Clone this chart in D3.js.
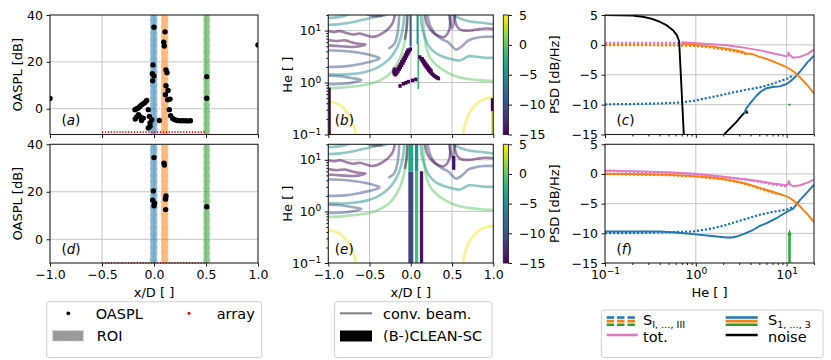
<!DOCTYPE html>
<html>
<head>
<meta charset="utf-8">
<script src="https://cdn.jsdelivr.net/npm/d3@7/dist/d3.min.js"></script>
<style>
html,body{margin:0;padding:0;background:#fff;}
svg{display:block;}
</style>
</head>
<body>
<svg id="chart" width="831" height="360"></svg>
<script>
// ===================== DATA =====================
const xPosTicks = [-1, -0.5, 0, 0.5, 1];
const oasplTicks = [0, 20, 40];
const heMajorTicks = [0.1, 1, 10];
const heMinorTicks = [0.2,0.3,0.4,0.5,0.6,0.7,0.8,0.9,2,3,4,5,6,7,8,9,20];
const psdTicks = [-15, -10, -5, 0, 5];
const cbarTicks = [-15, -10, -5, 0, 5];
const panelLetters = [['a','b','c'],['d','e','f']];

// OASPL scatter (x/D, dB)
const oasplA = [
 [-1.0,4.4],[1.0,27.2],
 [0.0,34.8],[-0.01,18.7],[-0.016,14.9],[0.0,14.0],[-0.013,11.9],
 [0.106,32.8],[0.093,28.4],[0.099,26.8],[0.115,16.6],[0.125,15.4],[0.115,9.8],[0.135,7.8],
 [0.109,6.0],[0.154,4.1],[0.132,3.8],[0.147,-0.4],[0.16,-3.0],[0.18,-4.2],[0.2,-4.7],
 [0.225,-5.0],[0.25,-5.1],[0.275,-5.1],[0.3,-5.1],[0.325,-5.2],[0.35,-5.1],
 [0.507,13.7],[0.507,4.5],
 [-0.183,-0.4],[-0.167,0.0],[-0.151,0.3],[-0.135,1.0],[-0.118,1.7],[-0.1,2.2],[-0.087,2.7],[-0.07,3.5],
 [-0.166,-3.5],[-0.15,-2.6],[-0.18,-4.4],[-0.135,-3.3],[-0.103,-4.0],[-0.055,-0.4],[-0.045,-3.3],
 [-0.022,-4.7],[-0.038,-6.1],[-0.055,-8.2],[-0.038,-7.5],[0.051,-5.0],[-0.12,-5.0]
];
const oasplD = [
 [0.0,34.4],[-0.006,20.3],[-0.013,16.5],[0.006,15.2],[0.0,14.1],
 [0.096,32.0],[0.1,31.3],[0.115,18.2],[0.109,17.0],[0.112,17.0],[0.112,12.5],
 [0.507,13.7]
];
// regions of interest (x/D)
const roiLo = [-0.038, 0.067, 0.474];
const roiHi = [0.032, 0.138, 0.538];
// microphone array span and drawing level
const arrayExtent = [-0.5, 0.5];
const arrayLevel = -10;

// conventional beamforming contour lines: level (dB/Hz) and points (x/D, He)
const beamContours = [
 {lvl:4.5, pts:[[-1,0.43],[-0.92,0.41],[-0.85,0.36],[-0.79,0.29],[-0.74,0.22],[-0.7,0.16],[-0.675,0.12],[-0.665,0.09]]},
 {lvl:4.5, pts:[[1,0.53],[0.92,0.5],[0.84,0.44],[0.77,0.35],[0.71,0.26],[0.67,0.18],[0.645,0.13],[0.635,0.09]]},
 {lvl:0, pts:[[-1,0.78],[-0.85,0.8],[-0.7,0.84],[-0.56,0.9],[-0.44,1.0],[-0.34,1.18],[-0.25,1.5],[-0.18,2.1],[-0.12,3.3],[-0.08,5.5],[-0.055,10],[-0.045,21]]},
 {lvl:0, pts:[[0.15,21],[0.16,10],[0.19,4.5],[0.24,2.9],[0.32,2.1],[0.43,1.6],[0.56,1.3],[0.7,1.17],[0.85,1.1],[1,1.07]]},
 {lvl:-5, pts:[[-1,1.45],[-0.85,1.42],[-0.7,1.47],[-0.55,1.6],[-0.43,1.85],[-0.33,2.3],[-0.24,3.1],[-0.17,4.6],[-0.12,7.5],[-0.09,13],[-0.08,21]]},
 {lvl:-5, pts:[[0.12,21],[0.135,12],[0.17,7.5],[0.22,5],[0.3,3.7],[0.4,3.1],[0.5,2.8],[0.58,2.65],[0.63,2.8],[0.7,3.2],[0.8,3.15],[0.9,3.0],[1,3.0]]},
 {lvl:-5, pts:[[-1,13],[-0.88,13.2],[-0.76,14],[-0.64,15.3],[-0.52,17],[-0.42,18.5],[-0.32,19.5],[-0.26,21]]},
 {lvl:-5, pts:[[-1,17.5],[-0.9,18],[-0.8,19.2],[-0.74,21]]},
 {lvl:-5, pts:[[0.5,21],[0.6,17],[0.72,15],[0.84,14.3],[1,13.3]]},
 {lvl:-10, pts:[[-1,4.2],[-0.85,4.1],[-0.7,3.9],[-0.56,3.6],[-0.45,3.25],[-0.38,2.95],[-0.42,2.7],[-0.52,2.45],[-0.66,2.2],[-0.8,2.05],[-1,2.0]]},
 {lvl:-10, pts:[[-1,1.35],[-0.85,1.32],[-0.72,1.22],[-0.6,1.12],[-0.68,1.02],[-0.82,0.95],[-1,0.93]]},
 {lvl:-10, pts:[[-0.14,21],[-0.15,12],[-0.17,7.5],[-0.2,5.5],[-0.26,4.6]]},
 {lvl:-10, pts:[[0.2,21],[0.24,12],[0.3,8.5],[0.38,6.8],[0.45,6],[0.5,5],[0.55,4.3],[0.62,5.0],[0.7,6.5],[0.8,7.3],[0.9,7.6],[1,7.6]]},
 {lvl:-10, pts:[[0.46,21],[0.48,14],[0.5,11],[0.52,14],[0.53,21]]},
 {lvl:-15, pts:[[-1,9.8],[-0.93,9.4],[-0.86,9.8],[-0.78,9.0],[-0.7,8.4],[-0.62,8.8],[-0.55,8.2],[-0.47,7.6],[-0.4,8.0],[-0.33,9.2],[-0.27,11],[-0.22,14],[-0.19,21]]},
 {lvl:-15, pts:[[-1,6.6],[-0.9,6.3],[-0.8,6.5],[-0.72,6.0],[-0.63,5.6],[-0.55,5.4],[-0.62,5.0],[-0.72,4.85],[-0.85,5.0],[-1,5.2]]},
 {lvl:-15, pts:[[-0.55,21],[-0.45,19],[-0.35,19.5]]},
 {lvl:-15, pts:[[-0.04,21],[-0.05,11],[-0.07,7]]},
 {lvl:-15, pts:[[0.17,21],[0.2,13],[0.26,9.5],[0.33,8],[0.4,7.5],[0.44,8.5],[0.47,11],[0.48,21]]},
 {lvl:-15, pts:[[0.53,21],[0.55,13],[0.6,10.5],[0.7,10],[0.8,10.5],[0.9,11],[1,10.8]]}
];

// CLEAN-SC map cells (x/D, He, level) for panel b
const cleanCellsB = [
 [-0.005,4.4,-15],[-0.02,4.0,-15],[-0.035,3.6,-15],[-0.05,3.25,-15],[-0.065,2.95,-15],[-0.08,2.65,-15],
 [-0.095,2.4,-15],[-0.11,2.18,-15],[-0.125,1.98,-15],[-0.14,1.8,-15],[-0.155,1.65,-15],[-0.17,1.52,-15],[-0.185,1.42,-15],
 [-0.035,4.2,-15],[-0.05,3.8,-15],[-0.065,3.4,-15],[-0.08,3.05,-15],[-0.095,2.75,-15],[-0.11,2.5,-15],[-0.125,2.25,-15],
 [-0.14,2.05,-15],[-0.155,1.86,-15],[-0.17,1.7,-15],[-0.185,1.58,-15],[-0.2,1.48,-15],[-0.205,1.62,-15],[-0.2,1.8,-15],
 [0.11,3.1,-15],[0.125,2.85,-15],[0.14,2.6,-15],[0.155,2.4,-15],[0.17,2.2,-15],[0.185,2.03,-15],[0.2,1.88,-15],
 [0.215,1.75,-15],[0.23,1.64,-15],[0.245,1.54,-15],[0.26,1.46,-15],[0.275,1.39,-15],[0.29,1.33,-15],[0.305,1.28,-15],
 [0.32,1.24,-15],[0.335,1.2,-15],
 [0.14,2.85,-15],[0.155,2.62,-15],[0.17,2.42,-15],[0.185,2.24,-15],[0.2,2.07,-15],[0.215,1.93,-15],[0.23,1.8,-15],[0.245,1.69,-15],
 [-0.13,0.86,-15],[-0.09,0.95,-15],[-0.06,0.99,-15],[-0.03,1.04,-15],[0.02,1.1,-15],[0.06,1.15,-15]
];
// CLEAN-SC strips (x range, He range, level)
const cleanStripsB = [
 {x0:-1,x1:-0.97,h0:0.09,h1:0.8,lvl:-15},
 {x0:0.97,x1:1,h0:0.28,h1:0.5,lvl:-15},
 {x0:0.975,x1:1,h0:0.09,h1:0.28,lvl:4},
 {x0:0.08,x1:0.1,h0:0.75,h1:5.5,lvl:-1},
 {x0:0.07,x1:0.095,h0:5.5,h1:21,lvl:-5},
 {x0:-0.015,x1:0.01,h0:5,h1:21,lvl:-9}
];
const cleanStripsE = [
 {x0:-0.03,x1:0.03,h0:0.09,h1:5.9,lvl:-11},
 {x0:-0.03,x1:0.03,h0:5.9,h1:21,lvl:-3},
 {x0:0.05,x1:0.09,h0:0.09,h1:6,lvl:-1},
 {x0:0.05,x1:0.09,h0:6,h1:21,lvl:-5},
 {x0:0.11,x1:0.15,h0:0.09,h1:6,lvl:-14},
 {x0:0.5,x1:0.54,h0:6.4,h1:12,lvl:-14}
];

// PSD spectra (He, dB/Hz) panel c
const cBlueSolid = [[3.4,-11.5],[3.6,-10.6],[4.0,-9.7],[4.6,-8.6],[5.2,-7.8],[6.0,-7.25],[7.0,-7.05],[8.4,-6.95],[10,-6.55],[11.8,-5.7],[14,-4.5],[17,-2.9],[20,-1.8]];
const cBlueDotted = [[0.1,-9.95],[0.2,-9.9],[0.4,-9.8],[0.67,-9.65],[1.0,-9.3],[1.43,-8.8],[2.0,-8.35],[2.58,-7.95],[3.5,-7.55],[5.08,-7.1],[7,-6.5],[10,-5.7],[11.8,-5.15]];
const cOrangeSolid = [[0.7,0.2],[0.8,0.12],[1.1,-0.07],[1.5,-0.3],[2.18,-0.63],[2.8,-0.95],[3.32,-1.2],[3.6,-1.45],[3.94,-1.48],[4.3,-1.6],[5,-2.0],[6.03,-2.33],[8,-3.1],[10,-3.74],[12,-4.5],[14,-5.43],[17,-6.8],[20,-8.13]];
const cOrangeDotted = [[0.1,-0.05],[0.3,-0.05],[0.6,-0.1],[1.0,-0.2],[1.5,-0.45],[2.2,-0.85],[3.0,-1.25],[3.6,-1.55]];
const cPinkSolid = [[0.7,0.45],[0.93,0.32],[1.5,0.12],[2.18,-0.07],[3.5,-0.5],[5.08,-0.92],[7,-1.4],[10,-1.93],[10.3,-1.8],[10.5,-1.25],[10.8,-1.7],[11.8,-2.16],[14,-2.0],[17,-1.5],[20,-0.8]];
const cPinkDotted = [[0.1,0.35],[0.3,0.35],[0.5,0.33],[0.7,0.3]];
const cNoise = [[0.1,5.0],[0.2,4.9],[0.26,4.7],[0.33,4.35],[0.4,3.87],[0.48,3.25],[0.56,2.46],[0.62,1.6],[0.655,0.6],[0.74,-15.5]];
const cNoiseHigh = [[1.92,-15.5],[2.3,-14.2],[2.8,-12.9],[3.3,-11.6],[3.62,-11.1],[3.7,-11.5]];
const cGreenSolid = [[10.4,-10.0],[11.1,-10.0]];

// PSD spectra panel f
const fBlueSolid = [[0.1,-9.7],[0.2,-9.7],[0.4,-9.7],[0.6,-9.85],[0.93,-10.14],[1.5,-10.45],[2.18,-10.71],[2.5,-10.7],[2.81,-10.54],[3.4,-10.1],[4.29,-9.4],[5,-8.8],[6.03,-8.28],[8,-7.3],[10,-6.41],[11.8,-5.85],[14,-4.4],[17,-3.0],[20,-1.78]];
const fBlueDotted = [[0.1,-9.97],[0.2,-9.95],[0.4,-9.85],[0.7,-9.75],[0.93,-9.69],[1.5,-9.2],[2.18,-8.56],[3.5,-7.6],[5.08,-6.86],[7,-6.4],[10,-6.0],[11.8,-5.6]];
const fOrangeSolid = [[0.1,0.03],[0.3,-0.05],[0.6,-0.2],[0.93,-0.37],[1.5,-0.6],[2.18,-0.93],[3.5,-1.6],[5.08,-2.34],[7,-3.0],[10,-3.76],[12,-4.5],[14,-5.45],[17,-6.8],[20,-8.1]];
const fOrangeDotted = [[0.1,0.0],[0.5,-0.2],[1.0,-0.45],[2.0,-0.9],[3.0,-1.4],[4.0,-1.95],[5.08,-2.5],[6.5,-3.0],[8,-3.4]];
const fPinkSolid = [[0.1,0.59],[0.3,0.4],[0.6,0.2],[0.93,0.03],[1.5,-0.25],[2.18,-0.54],[3.5,-0.9],[5.08,-1.22],[7,-1.6],[10,-1.9],[10.3,-1.7],[10.6,-1.2],[10.9,-1.8],[11.8,-2.07],[14,-1.9],[17,-1.45],[20,-0.93]];
const fPinkDotted = [[0.1,0.5],[0.5,0.25],[1.0,0.0],[2.0,-0.5],[3.5,-0.95],[5.08,-1.35],[7,-1.75],[10,-2.1]];
const fGreenSpike = [[10.45,-10.4],[10.6,-10.0],[10.75,-9.8],[10.9,-10.1],[11.05,-10.4]];

// ===================== STYLE / LAYOUT =====================
const FONT = "'DejaVu Sans', sans-serif";
const TFS = 12.5, LFS = 13, GFS = 14.5;
const AXA = [50, 258], AXB = [328.3, 493.3], AXC = [605, 814], CBX = [503.3, 508.5];
const ROWS = [[15, 134.5], [144.3, 263]];
const COL = {blue:'#1f77b4', orange:'#ff7f0e', green:'#2ca02c', pink:'#e377c2', grid:'#c4c4c4'};
const roiColors = [COL.blue, COL.orange, COL.green];
const CELL_DX = 0.04, CELL_DLOG = 0.07;
const viridis = v => d3.interpolateViridis(Math.max(0, Math.min(1, (v + 15) / 20)));

const svg = d3.select('#chart');
const defs = svg.append('defs');
svg.append('rect').attr('width', 831).attr('height', 360).attr('fill', '#fff');

function addClip(id, x0, x1, y0, y1) {
  defs.append('clipPath').attr('id', id).append('rect')
    .attr('x', x0).attr('y', y0).attr('width', x1 - x0).attr('height', y1 - y0);
  return `url(#${id})`;
}
function styleAxis(g) {
  g.select('.domain').remove();
  g.selectAll('line').attr('stroke', '#000').attr('stroke-width', 0.9);
  g.selectAll('text').attr('font-family', FONT).attr('font-size', TFS).attr('fill', '#000');
}
function supTicks(g) {
  g.selectAll('.tick text').each(function (d) {
    const t = d3.select(this);
    const e = Math.round(Math.log10(d));
    t.text(null);
    t.append('tspan').text('10');
    t.append('tspan').attr('dy', '-0.5em').attr('font-size', TFS * 0.72).text(e < 0 ? '\u2212' + (-e) : String(e));
  });
}
function frame(x0, x1, y0, y1) {
  svg.append('rect').attr('x', x0).attr('y', y0).attr('width', x1 - x0).attr('height', y1 - y0)
    .attr('fill', 'none').attr('stroke', '#222').attr('stroke-width', 1.1);
}
function gridLines(g, xs, ys, xv, yv, x0, x1, y0, y1) {
  g.selectAll(null).data(xv).join('line').attr('x1', d => xs(d)).attr('x2', d => xs(d)).attr('y1', y0).attr('y2', y1)
    .attr('stroke', COL.grid).attr('stroke-width', 1);
  g.selectAll(null).data(yv).join('line').attr('y1', d => ys(d)).attr('y2', d => ys(d)).attr('x1', x0).attr('x2', x1)
    .attr('stroke', COL.grid).attr('stroke-width', 1);
}
function panelLabel(x, y, letter) {
  const t = svg.append('text').attr('x', x).attr('y', y).attr('font-family', FONT).attr('font-size', 13.5);
  t.append('tspan').text('(');
  t.append('tspan').attr('font-style', 'italic').text(letter);
  t.append('tspan').text(')');
}
function ylabel(x, cy, txt) {
  svg.append('text').attr('transform', `translate(${x},${cy}) rotate(-90)`).attr('text-anchor', 'middle')
    .attr('font-family', FONT).attr('font-size', LFS).text(txt);
}
function xlabel(cx, y, txt) {
  svg.append('text').attr('x', cx).attr('y', y).attr('text-anchor', 'middle')
    .attr('font-family', FONT).attr('font-size', LFS).text(txt);
}

// viridis gradient for colorbar
const grad = defs.append('linearGradient').attr('id', 'vir').attr('x1', 0).attr('y1', 1).attr('x2', 0).attr('y2', 0);
d3.range(0, 1.0001, 0.05).forEach(t => grad.append('stop').attr('offset', t).attr('stop-color', d3.interpolateViridis(t)));

for (let r = 0; r < 2; r++) {
  const [yt, yb] = ROWS[r];
  const last = r === 1;

  // ---------- panel a / d ----------
  const xA = d3.scaleLinear([-1, 1], AXA);
  const yA = d3.scaleLinear(r === 0 ? [-11, 40] : [-10, 40], [yb, yt]);
  const gA = svg.append('g');
  gridLines(gA, xA, yA, [-0.5, 0, 0.5], [0, 20], AXA[0], AXA[1], yt, yb);
  const cA = addClip('clipA' + r, AXA[0], AXA[1], yt, yb);
  const gAc = gA.append('g').attr('clip-path', cA);
  roiLo.forEach((lo, i) => {
    gAc.append('rect').attr('x', xA(lo)).attr('y', yt).attr('width', xA(roiHi[i]) - xA(lo)).attr('height', yb - yt)
      .attr('fill', roiColors[i]).attr('fill-opacity', 0.55);
    [lo, roiHi[i]].forEach(v => gAc.append('line').attr('x1', xA(v)).attr('x2', xA(v)).attr('y1', yt).attr('y2', yb)
      .attr('stroke', '#fff').attr('stroke-opacity', 0.55).attr('stroke-width', 1.4).attr('stroke-dasharray', '4,2.5'));
  });
  gA.append('line').attr('x1', xA(arrayExtent[0])).attr('x2', xA(arrayExtent[1]))
    .attr('y1', yA(arrayLevel)).attr('y2', yA(arrayLevel))
    .attr('stroke', '#e8000b').attr('stroke-width', 1.6).attr('stroke-dasharray', '1.2,1.7');
  gAc.selectAll(null).data(r === 0 ? oasplA : oasplD).join('circle')
    .attr('cx', d => xA(d[0])).attr('cy', d => yA(d[1])).attr('r', 2.7).attr('fill', '#000');
  frame(AXA[0], AXA[1], yt, yb);
  const axAy = svg.append('g').attr('transform', `translate(${AXA[0]},0)`)
    .call(d3.axisLeft(yA).tickValues(oasplTicks).tickSize(3.5).tickPadding(3.5).tickFormat(d3.format('d')));
  styleAxis(axAy);
  const axAx = svg.append('g').attr('transform', `translate(0,${yb})`)
    .call(d3.axisBottom(xA).tickValues(xPosTicks).tickSize(3.5).tickPadding(3.5).tickFormat(last ? d3.format('.1f') : () => ''));
  styleAxis(axAx);
  ylabel(21.7, (yt + yb) / 2, 'OASPL [dB]');
  panelLabel(AXA[0] + 11.5, yb - 9.5, panelLetters[r][0]);

  // ---------- panel b / e ----------
  const xB = d3.scaleLinear([-1, 1], AXB);
  const yB = d3.scaleLog([0.1, 20], [yb, yt]);
  const gB = svg.append('g');
  gridLines(gB, xB, yB, [-0.5, 0, 0.5], [1, 10], AXB[0], AXB[1], yt, yb);
  const cB = addClip('clipB' + r, AXB[0], AXB[1], yt, yb);
  const gBc = gB.append('g').attr('clip-path', cB);
  const cline = d3.line().x(d => xB(d[0])).y(d => yB(d[1])).curve(d3.curveCatmullRom.alpha(0.5));
  gBc.selectAll(null).data(beamContours).join('path')
    .attr('d', d => cline(d.pts)).attr('fill', 'none')
    .attr('stroke', d => viridis(d.lvl)).attr('stroke-opacity', 0.5).attr('stroke-width', 2.6)
    .attr('stroke-linejoin', 'round').attr('stroke-linecap', 'round');
  const strips = r === 0 ? cleanStripsB : cleanStripsE;
  gBc.selectAll(null).data(strips).join('rect')
    .attr('x', d => xB(d.x0)).attr('width', d => xB(d.x1) - xB(d.x0))
    .attr('y', d => yB(d.h1)).attr('height', d => yB(d.h0) - yB(d.h1)).attr('fill', d => viridis(d.lvl));
  if (r === 0) {
    gBc.selectAll(null).data(cleanCellsB).join('rect')
      .attr('x', d => xB(d[0] - CELL_DX / 2)).attr('width', xB(CELL_DX) - xB(0))
      .attr('y', d => yB(d[1] * Math.pow(10, CELL_DLOG / 2)))
      .attr('height', d => yB(d[1] / Math.pow(10, CELL_DLOG / 2)) - yB(d[1] * Math.pow(10, CELL_DLOG / 2)))
      .attr('fill', d => viridis(d[2]));
  }
  frame(AXB[0], AXB[1], yt, yb);
  const axBy = svg.append('g').attr('transform', `translate(${AXB[0]},0)`)
    .call(d3.axisLeft(yB).tickValues(heMajorTicks).tickSize(3.5).tickPadding(3.5));
  styleAxis(axBy); supTicks(axBy);
  const axBym = svg.append('g').attr('transform', `translate(${AXB[0]},0)`)
    .call(d3.axisLeft(yB).tickValues(heMinorTicks).tickSize(2).tickFormat(() => ''));
  styleAxis(axBym);
  const axBx = svg.append('g').attr('transform', `translate(0,${yb})`)
    .call(d3.axisBottom(xB).tickValues(xPosTicks).tickSize(3.5).tickPadding(3.5).tickFormat(last ? d3.format('.1f') : () => ''));
  styleAxis(axBx);
  ylabel(291.5, (yt + yb) / 2, 'He [ ]');
  panelLabel(AXB[0] + 6.5, yb - 9.5, panelLetters[r][1]);

  // colorbar
  const cb = d3.scaleLinear([-15, 5], [yb, yt]);
  svg.append('rect').attr('x', CBX[0]).attr('y', yt).attr('width', CBX[1] - CBX[0]).attr('height', yb - yt)
    .attr('fill', 'url(#vir)').attr('stroke', '#222').attr('stroke-width', 0.9);
  const axCb = svg.append('g').attr('transform', `translate(${CBX[1]},0)`)
    .call(d3.axisRight(cb).tickValues(cbarTicks).tickSize(3.5).tickPadding(7).tickFormat(d3.format('d')));
  styleAxis(axCb);

  // ---------- panel c / f ----------
  const xC = d3.scaleLog([0.1, 20], AXC);
  const yC = d3.scaleLinear([-15, 5], [yb, yt]);
  const gC = svg.append('g');
  gridLines(gC, xC, yC, [1, 10], [-10, -5, 0], AXC[0], AXC[1], yt, yb);
  const cC = addClip('clipC' + r, AXC[0], AXC[1], yt, yb);
  const gCc = gC.append('g').attr('clip-path', cC);
  const sline = d3.line().x(d => xC(d[0])).y(d => yC(d[1]));
  const sdef = r === 0 ? [
      [cPinkDotted, COL.pink, true], [cOrangeDotted, COL.orange, true], [cBlueDotted, COL.blue, true],
      [cNoise, '#000', false], [cNoiseHigh, '#000', false],
      [cBlueSolid, COL.blue, false], [cOrangeSolid, COL.orange, false], [cPinkSolid, COL.pink, false],
      [cGreenSolid, COL.green, false]
    ] : [
      [fPinkDotted, COL.pink, true], [fOrangeDotted, COL.orange, true], [fBlueDotted, COL.blue, true],
      [fBlueSolid, COL.blue, false], [fOrangeSolid, COL.orange, false], [fPinkSolid, COL.pink, false]
    ];
  sdef.forEach(([data, col, dotted]) => {
    gCc.append('path').attr('d', sline(data)).attr('fill', 'none').attr('stroke', col)
      .attr('stroke-width', dotted ? 2.2 : 1.9).attr('stroke-dasharray', dotted ? '2.2,1.8' : null)
      .attr('stroke-linejoin', 'round');
  });
  if (r === 1) {
    const area = d3.area().x(d => xC(d[0])).y0(yC(-15.5)).y1(d => yC(d[1]));
    gCc.append('path').attr('d', area(fGreenSpike)).attr('fill', COL.green).attr('stroke', '#5cc05c').attr('stroke-width', 1);
    gCc.append('path').attr('d', sline(fGreenSpike)).attr('fill', 'none').attr('stroke', COL.green).attr('stroke-width', 1.9);
  }
  frame(AXC[0], AXC[1], yt, yb);
  const axCy = svg.append('g').attr('transform', `translate(${AXC[0]},0)`)
    .call(d3.axisLeft(yC).tickValues(psdTicks).tickSize(3.5).tickPadding(3.5).tickFormat(d3.format('d')));
  styleAxis(axCy);
  const axCx = svg.append('g').attr('transform', `translate(0,${yb})`)
    .call(d3.axisBottom(xC).tickValues(heMajorTicks).tickSize(3.5).tickPadding(3.5));
  styleAxis(axCx);
  if (last) supTicks(axCx); else axCx.selectAll('.tick text').remove();
  const axCxm = svg.append('g').attr('transform', `translate(0,${yb})`)
    .call(d3.axisBottom(xC).tickValues(heMinorTicks).tickSize(2).tickFormat(() => ''));
  styleAxis(axCxm);
  ylabel(559, (yt + yb) / 2, 'PSD [dB/Hz]');
  panelLabel(AXC[0] + 11.5, yb - 9.5, panelLetters[r][2]);
}

xlabel((AXA[0] + AXA[1]) / 2, 297, 'x/D [ ]');
xlabel((AXB[0] + AXB[1]) / 2, 297, 'x/D [ ]');
xlabel((AXC[0] + AXC[1]) / 2, 297, 'He [ ]');

// ===================== LEGENDS =====================
function legendBox(x0, x1, y0, y1) {
  svg.append('rect').attr('x', x0).attr('y', y0).attr('width', x1 - x0).attr('height', y1 - y0).attr('rx', 2.5)
    .attr('fill', '#fff').attr('stroke', '#d0d0d0').attr('stroke-width', 1);
}
function legText(x, y, txt) {
  return svg.append('text').attr('x', x).attr('y', y).attr('font-family', FONT).attr('font-size', GFS).text(txt);
}
// legend 1
legendBox(46.7, 261.7, 301.7, 357.5);
svg.append('circle').attr('cx', 68.3).attr('cy', 313.3).attr('r', 1.9).attr('fill', '#000');
legText(95.7, 318.6, 'OASPL');
svg.append('circle').attr('cx', 189).attr('cy', 313.3).attr('r', 1.5).attr('fill', '#e8000b');
legText(216.7, 318.6, 'array');
svg.append('rect').attr('x', 52.7).attr('y', 330.7).attr('width', 30.6).attr('height', 10.3)
  .attr('fill', '#999').attr('stroke', '#c8c8c8').attr('stroke-width', 1.2).attr('stroke-dasharray', '3,2');
legText(96.7, 341.3, 'ROI');
// legend 2
legendBox(334.6, 492, 301.7, 357.5);
svg.append('line').attr('x1', 340).attr('x2', 372).attr('y1', 313.3).attr('y2', 313.3).attr('stroke', '#808080').attr('stroke-width', 2);
legText(383, 318.6, 'conv. beam.');
svg.append('rect').attr('x', 340).attr('y', 330.5).attr('width', 32).attr('height', 11).attr('fill', '#000');
legText(383, 341.3, '(B-)CLEAN-SC');
// legend 3
legendBox(601.4, 823, 310, 357.5);
[COL.blue, COL.orange, COL.green].forEach((c, i) => {
  svg.append('line').attr('x1', 606.7).attr('x2', 637.7).attr('y1', 317.5 + i * 3.6).attr('y2', 317.5 + i * 3.6)
    .attr('stroke', c).attr('stroke-width', 2.6).attr('stroke-dasharray', '7.4,3');
  svg.append('line').attr('x1', 725.7).attr('x2', 757.7).attr('y1', 317.5 + i * 3.6).attr('y2', 317.5 + i * 3.6)
    .attr('stroke', c).attr('stroke-width', 2.6);
});
const s1 = legText(643, 324.5, 'S');
s1.append('tspan').attr('dy', 3.5).attr('font-size', 9.5).text('I, \u2026, III');
const s2 = legText(768, 324.5, 'S');
s2.append('tspan').attr('dy', 3.5).attr('font-size', 9.5).text('1, \u2026, 3');
svg.append('line').attr('x1', 606.7).attr('x2', 637.7).attr('y1', 335).attr('y2', 335).attr('stroke', COL.pink).attr('stroke-width', 2.6);
legText(643, 342, 'tot.');
svg.append('line').attr('x1', 725.7).attr('x2', 757.7).attr('y1', 335).attr('y2', 335).attr('stroke', '#000').attr('stroke-width', 2.6);
legText(768, 342, 'noise');
</script>
</body>
</html>
